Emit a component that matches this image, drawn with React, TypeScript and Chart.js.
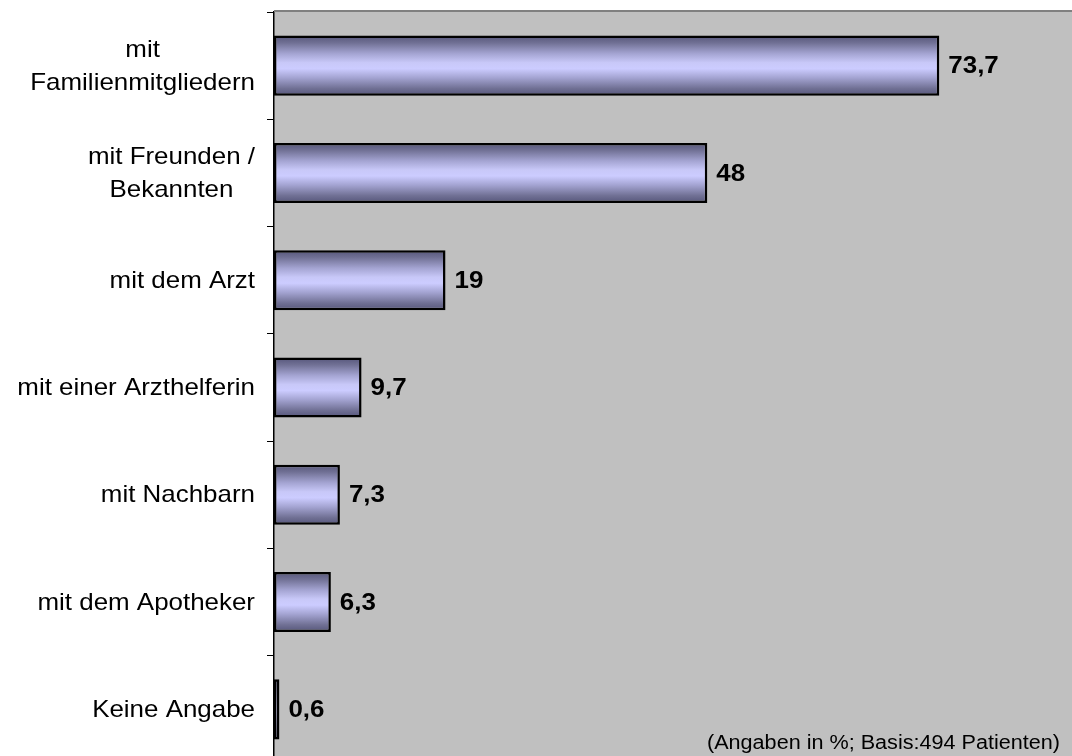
import React, { useEffect, useRef } from "react";
import { Chart, registerables } from "chart.js";

Chart.register(...registerables);

const categories: (string | string[])[] = [
  ["mit", "Familienmitgliedern"],
  ["mit Freunden /", "Bekannten"],
  "mit dem Arzt",
  "mit einer Arzthelferin",
  "mit Nachbarn",
  "mit dem Apotheker",
  "Keine Angabe",
];
const values: number[] = [73.7, 48, 19, 9.7, 7.3, 6.3, 0.6];
const footnote = "(Angaben in %; Basis:494 Patienten)";

const FONT = '"Liberation Sans", Arial, sans-serif';
const SX = 1.08;
const BAR_PCT = 0.56;

const fmt = (v: number) => String(v).replace(".", ",");

function drawStretched(
  ctx: CanvasRenderingContext2D,
  text: string,
  x: number,
  y: number,
  align: CanvasTextAlign
) {
  ctx.save();
  ctx.translate(x, y);
  ctx.scale(SX, 1);
  ctx.textAlign = align;
  ctx.fillText(text, 0, 0);
  ctx.restore();
}

const decorPlugin = {
  id: "decor",
  beforeDraw(chart: any) {
    const { ctx, chartArea } = chart;
    ctx.save();
    ctx.fillStyle = "#C0C0C0";
    ctx.fillRect(
      chartArea.left,
      chartArea.top,
      chartArea.right - chartArea.left,
      chartArea.bottom - chartArea.top
    );
    ctx.restore();
  },
  afterDraw(chart: any) {
    const { ctx, chartArea } = chart;
    const ys = chart.scales.y;
    ctx.save();
    // top border of plot area
    ctx.strokeStyle = "#808080";
    ctx.lineWidth = 2;
    ctx.beginPath();
    ctx.moveTo(chartArea.left, chartArea.top - 1);
    ctx.lineTo(chartArea.right, chartArea.top - 1);
    ctx.stroke();

    // category labels
    ctx.fillStyle = "#000";
    ctx.textBaseline = "middle";
    ctx.font = `24px ${FONT}`;
    const rightEdge = chartArea.left - 19;
    const lineH = 33;
    categories.forEach((lab, i) => {
      const lines = Array.isArray(lab) ? lab : [lab];
      const cy = ys.getPixelForValue(i);
      const maxW = Math.max(...lines.map((l) => ctx.measureText(l).width * SX));
      const cx = rightEdge - maxW / 2;
      lines.forEach((l, j) => {
        const y = cy + (j - (lines.length - 1) / 2) * lineH + 1;
        drawStretched(ctx, l, cx, y, "center");
      });
    });

    // value labels
    ctx.font = `bold 24px ${FONT}`;
    const meta = chart.getDatasetMeta(0);
    meta.data.forEach((el: any, i: number) => {
      drawStretched(ctx, fmt(values[i]), el.x + 9, el.y + 1, "left");
    });

    // footnote
    ctx.font = `20px ${FONT}`;
    ctx.textBaseline = "alphabetic";
    drawStretched(ctx, footnote, 1060, 749, "right");
    ctx.restore();
  },
};

export default function App() {
  const ref = useRef<HTMLCanvasElement>(null);
  useEffect(() => {
    if (!ref.current) return;
    const chart = new Chart(ref.current, {
      type: "bar",
      data: {
        labels: categories as any,
        datasets: [
          {
            data: values,
            backgroundColor: (c: any) => {
              const ch = c.chart;
              const area = ch.chartArea;
              const ys = ch.scales?.y;
              if (!area || !ys || c.dataIndex === undefined) return "#ccccff";
              const cy = ys.getPixelForValue(c.dataIndex);
              const t = ((area.bottom - area.top) / categories.length) * BAR_PCT;
              const g = ch.ctx.createLinearGradient(0, cy - t / 2, 0, cy + t / 2);
              g.addColorStop(0, "#55557a");
              g.addColorStop(0.12, "#707094");
              g.addColorStop(0.3, "#a4a4d2");
              g.addColorStop(0.45, "#c8c8f8");
              g.addColorStop(0.55, "#ccccff");
              g.addColorStop(0.7, "#a4a4d2");
              g.addColorStop(0.88, "#707094");
              g.addColorStop(1, "#55557a");
              return g;
            },
            borderColor: "#000",
            borderWidth: 2.5,
            borderSkipped: false,
            barPercentage: BAR_PCT,
            categoryPercentage: 1,
          },
        ],
      },
      options: {
        indexAxis: "y",
        animation: false,
        responsive: false,
        devicePixelRatio: 1,
        layout: { padding: { top: 12, left: 0, right: 0, bottom: 0 } },
        plugins: {
          legend: { display: false },
          tooltip: { enabled: false },
          title: { display: false },
        },
        scales: {
          x: {
            display: false,
            min: 0,
            max: 88.4,
          },
          y: {
            type: "category",
            offset: true,
            grid: {
              display: true,
              drawOnChartArea: false,
              drawTicks: true,
              tickLength: 7,
              color: "#000",
              lineWidth: 1,
              offset: true,
            },
            border: { display: true, color: "#000", width: 1.5 },
            ticks: { display: false },
            afterFit: (s: any) => {
              s.width = 274;
            },
          },
        },
      },
      plugins: [decorPlugin],
    });
    return () => chart.destroy();
  }, []);

  return (
    <div
      style={{
        position: "fixed",
        left: 0,
        top: 0,
        width: 1072,
        height: 756,
        overflow: "hidden",
        background: "#fff",
      }}
    >
      <canvas
        ref={ref}
        width={1072}
        height={763}
        style={{ display: "block", width: 1072, height: 763 }}
      />
    </div>
  );
}
